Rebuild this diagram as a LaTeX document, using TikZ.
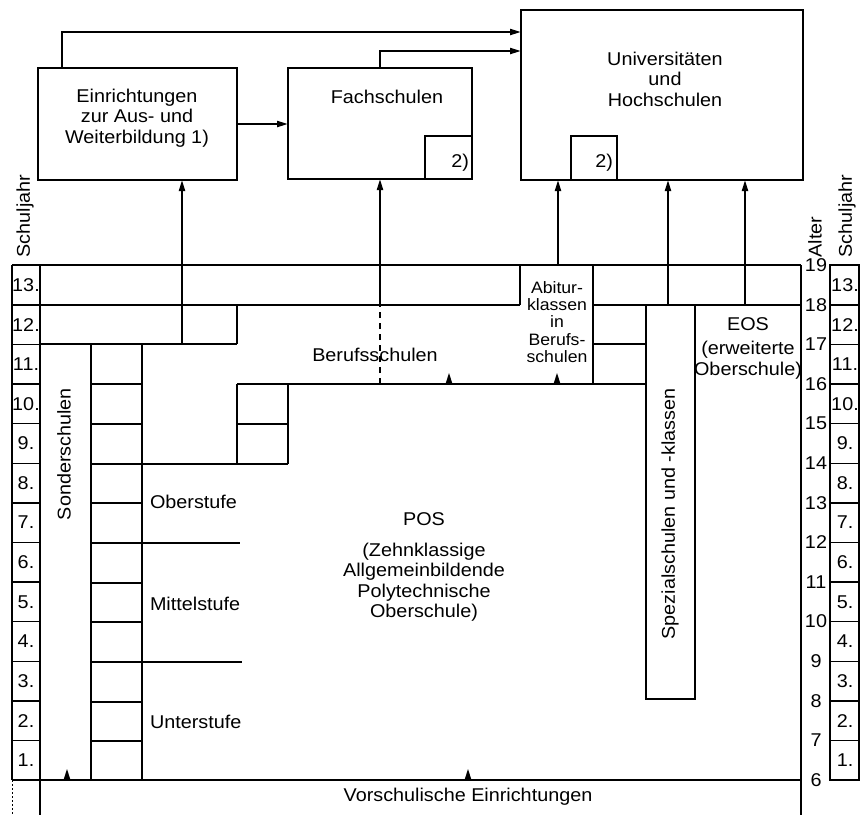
\documentclass[tikz,border=0pt]{standalone}
\usepackage{fontspec}
\setmainfont[FakeStretch=1.07]{Liberation Sans}
\usetikzlibrary{arrows.meta}
\begin{document}
\begin{tikzpicture}[x=1pt,y=-1pt,
  line width=1.4pt,
  every node/.style={inner sep=0pt, outer sep=0pt, font=\fontsize{18.5}{20.5}\selectfont},
  box/.style={draw, line width=1.4pt, inner sep=0pt},
  arr/.style={line width=2pt, -{Triangle[length=11pt,width=6pt]}},
  heavy/.style={line width=2.8pt},
  txt/.style={align=center},
  abi/.style={align=center, font=\fontsize{16.5}{17.2}\selectfont},
]
\useasboundingbox (0,0) rectangle (863,815);

% ---------- top boxes
\node[box, anchor=north west, minimum width=199pt, minimum height=112pt] (ein) at (38,68) {};
\node[box, anchor=north west, minimum width=184pt, minimum height=111pt] (fach) at (288,68) {};
\node[box, anchor=north west, minimum width=282pt, minimum height=170pt] (uni) at (521,10) {};
\node[box, anchor=south east, minimum width=47pt, minimum height=43pt] (fach2) at (fach.south east) {};
\node[box, anchor=south west, minimum width=46pt, minimum height=44pt] (uni2) at (571,180) {};
\draw[heavy] (ein.north west) -- ++(52,0);
\draw[heavy] (fach.north west) -- (fach.north east);
\draw[heavy] (fach2.north west) -- (fach2.north east);
\draw[heavy] (uni2.north west) -- (uni2.north east);

\node[txt] (tein) at (137,118) {Einrichtungen\\zur Aus- und\\Weiterbildung 1)};
\node (tfach) at (387,97) {Fachschulen};
\node[anchor=east] (tf2) at (469,163) {2)};
\node[txt] (tuni) at (665,79) {Universitäten\\und\\Hochschulen};
\node[anchor=east] (tu2) at (613,163) {2)};

% ---------- frame and year columns
\draw (12,265) -- (801,265);
\draw (12,265) -- (12,780);
\draw[line width=1pt, dash pattern=on 2pt off 2pt] (12,780) -- (12,815);
\draw (40,265) -- (40,815);
\draw (801,265) -- (801,815);
\draw (12,780) -- (801,780);
\draw (830,265) rectangle (859,780);
\foreach \i in {1,...,12} {
  \pgfmathsetmacro\yy{780-\i*39.6}
  \draw (12,\yy) -- (40,\yy);
  \draw (830,\yy) -- (859,\yy);
}

% ---------- school structure
\draw[heavy] (40,305) -- (520,305);
\draw[heavy] (593,305) -- (801,305);
\draw[heavy] (520,265) -- (593,265);
\draw (520,265) -- (520,305);
\draw (593,265) -- (593,384);
\draw (237,305) -- (237,344);
\draw (40,344) -- (237,344);
\draw (91,344) -- (91,780);
\draw (142,344) -- (142,780);
\foreach \yy in {384,424,464,503,543,583,622,662,702,741} \draw (91,\yy) -- (142,\yy);
\draw (237,384) -- (237,464);
\draw (288,384) -- (288,464);
\draw (237,424) -- (288,424);
\draw (142,464) -- (288,464);
\draw (237,384) -- (646,384);
\draw (593,344) -- (646,344);
\draw (142,543) -- (240,543);
\draw (142,662) -- (242,662);
\node[box, anchor=north west, minimum width=49pt, minimum height=394pt] (spez) at (646,305) {};

% ---------- arrows
\draw[arr] ([xshift=24pt]ein.north west) |- (uni.west |- 0,32);
\draw[arr] (fach.north) |- (uni.west |- 0,51);
\draw[arr] (ein.east) -- (ein.east -| fach.west);
\coordinate (pE) at (182,344);
\draw[arr] (pE) -- (pE |- ein.south);
\coordinate (pF) at (fach.south |- 0,305);
\draw[line width=1.2pt, dash pattern=on 6pt off 5pt] (fach.south |- 0,384) -- (pF);
\draw[arr] (pF) -- (fach.south);
\coordinate (pA) at (558,265);
\draw[arr] (pA) -- (pA |- uni.south);
\coordinate (pS) at (668,305);
\draw[arr] (pS) -- (pS |- uni.south);
\coordinate (pO) at (745,305);
\draw[arr] (pO) -- (pO |- uni.south);
\foreach \x/\y in {67/780, 468/780, 449/384, 557/384}
  \fill (\x-3.5,\y) -- (\x,\y-11) -- (\x+3.5,\y) -- cycle;

% ---------- labels
\node[rotate=90] (tsonder) at (64,454) {Sonderschulen};
\node[anchor=west] (tober) at (150,502) {Oberstufe};
\node[anchor=west] (tmittel) at (150,604) {Mittelstufe};
\node[anchor=west] (tunter) at (150,722) {Unterstufe};
\node (tpos) at (424,519) {POS};
\node[txt] (tposl) at (424,582) {(Zehnklassige\\Allgemeinbildende\\Polytechnische\\Oberschule)};
\node (tvor) at (468,797) {Vorschulische Einrichtungen};
\node (tberuf) at (375,355) {Berufsschulen};
\node[abi] (tabi) at (557,322) {Abitur-\\klassen\\in\\Berufs-\\schulen};
\node[rotate=90] (tspez) at (670,514) {Spezialschulen und -klassen};
\node (teos) at (748,324) {EOS};
\node[txt] (teosl) at (748,360) {(erweiterte\\Oberschule)};
\node[rotate=90] (tsj1) at (25,216) {Schuljahr};
\node[rotate=90] (talter) at (815,237) {Alter};
\node[rotate=90] (tsj2) at (847,216) {Schuljahr};

\foreach \n in {1,...,13} {
  \pgfmathsetmacro\yy{780-(\n-0.5)*39.6}
  \node (sa\n) at (26,\yy) {\n.};
  \node (sb\n) at (845,\yy) {\n.};
}
\foreach \a in {6,...,19} {
  \pgfmathsetmacro\yy{780-(\a-6)*39.6}
  \node (al\a) at (816,\yy) {\a};
}
\end{tikzpicture}
\end{document}
